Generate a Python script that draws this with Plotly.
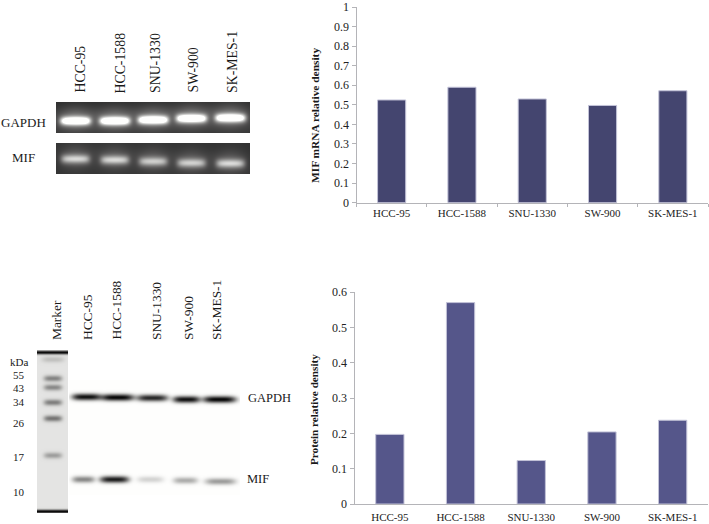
import numpy as np
import plotly.graph_objects as go

W, H = 709, 524
SERIF = "Liberation Serif, Times New Roman, serif"

cell_lines = ["HCC-95", "HCC-1588", "SNU-1330", "SW-900", "SK-MES-1"]
mrna_density = [0.525, 0.59, 0.53, 0.497, 0.572]
protein_density = [0.197, 0.57, 0.123, 0.204, 0.237]
mrna_ticks = [0, 0.1, 0.2, 0.3, 0.4, 0.5, 0.6, 0.7, 0.8, 0.9, 1]
protein_ticks = [0, 0.1, 0.2, 0.3, 0.4, 0.5, 0.6]
kda_labels = ["kDa", "55", "43", "34", "26", "17", "10"]

# gel band estimates (intensity per lane)
rt_gapdh_intensity = [1.0, 1.0, 1.0, 1.0, 1.0]
rt_mif_intensity = [0.6, 0.6, 0.55, 0.56, 0.6]
wb_gapdh_intensity = [0.95, 1.0, 0.85, 0.95, 1.0]
wb_mif_intensity = [0.42, 0.9, 0.14, 0.28, 0.34]
marker_intensity = [0.12, 0.34, 0.32, 0.36, 0.4, 0.24]


def dom_x(a, b):
    return [a / W, b / W]


def dom_y(top, bottom):
    return [1 - bottom / H, 1 - top / H]


fig = go.Figure()
axis_color = "#b4b4b8"
text_color = "#222222"
tick_font = dict(family=SERIF, size=12, color=text_color)


def add_bars(values, ticks, color, xa, ya, xdom, ydom, ymax, xticks):
    fig.add_trace(go.Bar(x=cell_lines, y=values, marker=dict(color=color, line=dict(color="#c3c3d8", width=1)),
                         width=0.4, xaxis=xa, yaxis=ya, showlegend=False))
    xk = "xaxis" + xa[1:]
    yk = "yaxis" + ya[1:]
    fig.layout[xk] = dict(domain=dom_x(*xdom), anchor=ya, showgrid=False, zeroline=False, automargin=False,
                          showline=True, linecolor=axis_color, linewidth=1,
                          ticks="outside" if xticks else "", tickson="boundaries", ticklen=3,
                          ticklabelstandoff=0 if xticks else 3,
                          tickcolor=axis_color, tickfont=dict(family=SERIF, size=11, color=text_color),
                          categoryorder="array", categoryarray=cell_lines)
    fig.layout[yk] = dict(domain=dom_y(*ydom), anchor=xa, range=[0, ymax], tickmode="array", automargin=False,
                          tickvals=ticks, ticktext=[f"{t:g}" for t in ticks], showgrid=False, zeroline=False,
                          showline=True, linecolor=axis_color, linewidth=1, ticks="outside", ticklen=4,
                          tickcolor=axis_color, tickfont=tick_font)


add_bars(mrna_density, mrna_ticks, "#44456f", "x", "y", (356.5, 708), (7, 202.7), 1, True)
add_bars(protein_density, protein_ticks, "#55568a", "x2", "y2", (354.5, 708), (292, 504), 0.6, False)


def add_gel(idx, box, z_fn, colorscale="gray", zmin=0, zmax=1):
    x0, x1, y0, y1 = box
    xs = np.arange(x0, x1 + 1, 1.0)
    ys = np.arange(y0, y1 + 1, 1.0)
    X, Y = np.meshgrid(xs, ys)
    z = np.clip(z_fn(X, Y), zmin, zmax)
    fig.add_trace(go.Heatmap(x=xs, y=ys, z=z, colorscale=colorscale, zmin=zmin, zmax=zmax, showscale=False,
                             xaxis=f"x{idx}", yaxis=f"y{idx}", hoverinfo="skip", zsmooth="best"))
    fig.layout[f"xaxis{idx}"] = dict(domain=dom_x(x0, x1), range=[x0, x1], visible=False, anchor=f"y{idx}", automargin=False)
    fig.layout[f"yaxis{idx}"] = dict(domain=dom_y(y0, y1), range=[y1, y0], visible=False, anchor=f"x{idx}", automargin=False)


def band(X, Y, cx, cy, hw, hh, p=4):
    return np.exp(-np.abs((X - cx) / hw) ** p - np.abs((Y - cy) / hh) ** 2)


rt_x = [75, 114.3, 152.7, 191, 230]
rt_gapdh_y = [120.5, 120.5, 119.5, 118, 117.5]
rt_mif_y = [158.5, 159.5, 161, 162.5, 163]


def rt_panel(intens, ys, hw, hh, glow):
    def fn(X, Y):
        z = 0.23 + 0.02 * np.sin(Y / 9.0)
        for i, c, y in zip(intens, rt_x, ys):
            z = z + 0.25 * glow * band(X, Y, c, y - 2, hw + 3, hh * 2.6, 2)
            z = z + 0.8 * i * band(X, Y, c, y, hw, hh, 6)
        return z
    return fn


add_gel(3, (56, 250, 102, 133), rt_panel(rt_gapdh_intensity, rt_gapdh_y, 15.5, 4.4, 1.2))
add_gel(4, (56, 250, 143, 174), rt_panel(rt_mif_intensity, rt_mif_y, 14.5, 4.6, 0.8))

wb_x = [86, 117, 152, 186, 219]
wb_gapdh_hw = [14, 16, 15, 13, 16]
wb_gapdh_y = [396.5, 397, 397.5, 399, 399]
wb_mif_x = [83, 114, 150, 185, 220]
wb_mif_hw = [11, 14, 13, 12, 15]
wb_mif_y = [479, 479, 479, 480, 481]


def wb_fn(X, Y):
    z = np.ones_like(X)
    for i, c, hw, y in zip(wb_gapdh_intensity, wb_x, wb_gapdh_hw, wb_gapdh_y):
        z = z - 0.95 * i * band(X, Y, c, y, hw, 3.2)
    for i, c, hw, y in zip(wb_mif_intensity, wb_mif_x, wb_mif_hw, wb_mif_y):
        z = z - 0.95 * i * band(X, Y, c, y, hw, 3.2)
    return z


add_gel(5, (69, 240, 380, 495), wb_fn)

marker_y = [359, 378, 387, 402, 418, 455]
marker_hw = [11, 9, 9, 9, 9, 9]


def marker_fn(X, Y):
    z = 0.92 * np.ones_like(X)
    for i, y, hw in zip(marker_intensity, marker_y, marker_hw):
        z = z - i * band(X, Y, 52.5, y, hw, 3.0)
    for y in (352, 511):
        z = z - 0.85 * np.exp(-((Y - y) / 1.8) ** 2)
    return z


add_gel(6, (37, 68, 350, 513), marker_fn)


def label(text, x, y, angle=0, size=12.5, yanchor="middle"):
    fig.add_annotation(text=text, x=x / W, y=1 - y / H, xref="paper", yref="paper", showarrow=False,
                       textangle=angle, xanchor="center", yanchor=yanchor, align="center", borderpad=0, borderwidth=0,
                       font=dict(family=SERIF, size=size, color="#1a1a1a"))


# bar chart axis titles
label("<b>MIF mRNA relative density</b>", 315, 116, angle=-90, size=11.4)
label("<b>Protein relative density</b>", 314, 410, angle=-90, size=11.2)

# RT-PCR panel labels
rt_label_x = [80, 120, 155, 193, 232]
for name, x in zip(cell_lines, rt_label_x):
    label(name, x, 93, angle=-90, size=13.8, yanchor="bottom")
label("GAPDH", 23, 122.5, size=13)
label("MIF", 23, 157.5, size=13)

# Western blot labels
label("Marker", 56, 340, angle=-90, size=13.4, yanchor="bottom")
wb_label_x = [87, 116, 156, 188, 216]
for name, x in zip(cell_lines, wb_label_x):
    label(name, x, 340, angle=-90, size=13.4, yanchor="bottom")
kda_y = [362, 375, 388, 402, 423, 457, 492]
kda_x = [19, 19, 19, 19, 19, 19, 19]
for t, x, y in zip(kda_labels, kda_x, kda_y):
    label(t, x, y, size=11)
label("GAPDH", 269, 398, size=12.5)
label("MIF", 258, 479, size=12.5)

fig.update_layout(width=W, height=H, autosize=False, margin=dict(l=0, r=0, t=0, b=0),
                  paper_bgcolor="white", plot_bgcolor="white", showlegend=False,
                  bargap=0.6)

fig.write_html("out.html", config=dict(displayModeBar=False), post_script="document.body.style.margin='0';")
